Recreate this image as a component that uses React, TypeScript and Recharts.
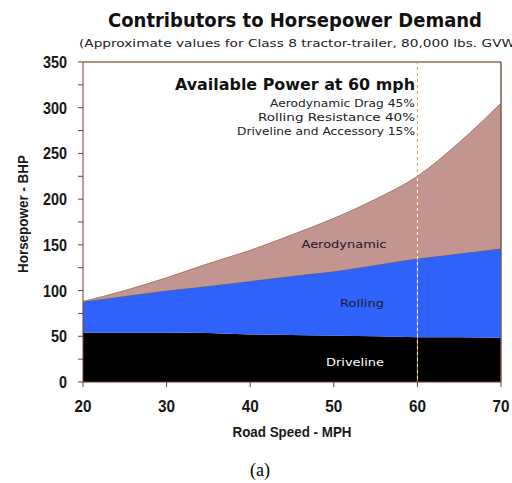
import { AreaChart, Area, XAxis, YAxis, ReferenceLine } from 'recharts';

const speeds = [20, 25, 30, 35, 40, 45, 50, 55, 60, 65, 70];
const driveline = [54, 54, 54, 53.5, 52, 51.5, 50.5, 50, 49, 49, 48.5];
const rolling = [34, 40, 46, 51.5, 58.5, 64.5, 70.5, 78, 86, 91.5, 97.5];
const aerodynamic = [0, 6, 14, 24.5, 33.5, 45, 58, 72, 90, 121.5, 159];

const xTicks = [20, 30, 40, 50, 60, 70];
const yTicks = [0, 25, 50, 75, 100, 125, 150, 175, 200, 225, 250, 275, 300, 325, 350];

const shares = [
  { text: 'Aerodynamic Drag 45%', width: 145 },
  { text: 'Rolling Resistance 40%', width: 157 },
  { text: 'Driveline and Accessory 15%', width: 178 }
];

const data = speeds.map((speed, i) => ({
  speed,
  driveline: driveline[i],
  rolling: rolling[i],
  aerodynamic: aerodynamic[i]
}));

// narrow bold tick labels, squeezed to the width of the original
function Tick(props: any) {
  const { x, y, payload, orientation } = props;
  const v = payload.value as number;
  if (orientation === 'left' && v % 50 !== 0) return null;
  const label = String(v);
  const w = label.length * (orientation === 'left' ? 8 : 8.5);
  if (orientation === 'left') {
    return (
      <text x={x} y={y} dy={6} textAnchor="end" textLength={w} lengthAdjust="spacingAndGlyphs" style={tickStyle}>
        {label}
      </text>
    );
  }
  return (
    <text x={x} y={y} dy={12} textAnchor="middle" textLength={w} lengthAdjust="spacingAndGlyphs" style={tickStyle}>
      {label}
    </text>
  );
}

export default function App() {
  return (
    <div style={page}>
      <AreaChart width={512} height={450} data={data} margin={{ top: 62, right: 11, bottom: 0, left: 0 }}>
        <XAxis
          dataKey="speed"
          type="number"
          domain={[20, 70]}
          ticks={xTicks}
          height={68}
          stroke={axisColor}
          tickSize={5}
          tickMargin={13}
          tick={<Tick orientation="bottom" />}
        />
        <YAxis
          type="number"
          domain={[0, 350]}
          ticks={yTicks}
          width={83}
          stroke={axisColor}
          tickSize={5}
          tickMargin={11}
          interval={0}
          tick={<Tick orientation="left" />}
        />
        <Area type="linear" dataKey="driveline" stackId="a" fill="#000" fillOpacity={1} stroke="none" isAnimationActive={false} />
        <Area type="monotone" dataKey="rolling" stackId="a" fill="#2f62fb" fillOpacity={1} stroke="#6a6a50" strokeWidth={1} isAnimationActive={false} />
        <Area type="monotone" dataKey="aerodynamic" stackId="a" fill="#c39590" fillOpacity={1} stroke="#a87868" strokeWidth={1} isAnimationActive={false} />
        <ReferenceLine y={350} stroke="#9a6a58" strokeWidth={1.5} />
        <ReferenceLine x={70} stroke="#7a5a48" strokeWidth={1.5} />
        <ReferenceLine x={60} stroke="#c89a5a" strokeDasharray="3 3" />
        <ReferenceLine x={60} stroke="#ffffff" strokeDasharray="3 3" strokeDashoffset={3} />
      </AreaChart>

      <svg width={512} height={483} style={overlay}>
        <text x={108} y={27} textLength={374} lengthAdjust="spacingAndGlyphs" style={titleFont}>
          Contributors to Horsepower Demand
        </text>
        <text x={79} y={47} textLength={436} lengthAdjust="spacingAndGlyphs" style={smallFont}>
          (Approximate values for Class 8 tractor-trailer, 80,000 lbs. GVW
        </text>

        <text x={415} y={90} textAnchor="end" textLength={240} lengthAdjust="spacingAndGlyphs" style={boxTitleFont}>
          Available Power at 60 mph
        </text>
        {shares.map((s, i) => (
          <text key={s.text} x={415} y={107 + i * 14} textAnchor="end" textLength={s.width} lengthAdjust="spacingAndGlyphs" style={smallFont}>
            {s.text}
          </text>
        ))}

        <text x={344} y={248} textAnchor="middle" textLength={85} lengthAdjust="spacingAndGlyphs" style={areaFont}>Aerodynamic</text>
        <text x={362} y={307} textAnchor="middle" textLength={44} lengthAdjust="spacingAndGlyphs" style={areaFont}>Rolling</text>
        <text x={355} y={366} textAnchor="middle" textLength={58} lengthAdjust="spacingAndGlyphs" style={{ ...areaFont, fill: '#fff' }}>Driveline</text>

        <text x={292} y={437} textAnchor="middle" textLength={119} lengthAdjust="spacingAndGlyphs" style={axisTitleFont}>
          Road Speed - MPH
        </text>
        <text
          x={0}
          y={0}
          transform="translate(28 214) rotate(-90)"
          textAnchor="middle"
          textLength={118}
          lengthAdjust="spacingAndGlyphs"
          style={axisTitleFont}
        >
          Horsepower - BHP
        </text>

        <text x={260} y={476} textAnchor="middle" style={captionFont}>(a)</text>
      </svg>
    </div>
  );
}

const axisColor = '#6e3a36';

const page = {
  position: 'absolute' as const,
  left: 0,
  top: 0,
  width: 512,
  height: 483,
  background: '#fff'
};

const overlay = {
  position: 'absolute' as const,
  left: 0,
  top: 0,
  pointerEvents: 'none' as const
};

const tickStyle = {
  fontFamily: '"Liberation Sans", Arial, sans-serif',
  fontWeight: 700,
  fontSize: 17,
  fill: '#161616'
};

const titleFont = {
  fontFamily: '"DejaVu Sans", sans-serif',
  fontWeight: 700,
  fontSize: 19,
  fill: '#111'
};

const boxTitleFont = {
  fontFamily: '"DejaVu Sans", sans-serif',
  fontWeight: 700,
  fontSize: 15,
  fill: '#111'
};

const smallFont = {
  fontFamily: '"DejaVu Sans", sans-serif',
  fontSize: 11,
  fill: '#222'
};

const areaFont = {
  fontFamily: '"DejaVu Sans", sans-serif',
  fontSize: 11,
  fill: '#1a1a2a'
};

const axisTitleFont = {
  fontFamily: '"Liberation Sans", Arial, sans-serif',
  fontWeight: 700,
  fontSize: 14,
  fill: '#1a1a1a'
};

const captionFont = {
  fontFamily: '"Liberation Serif", serif',
  fontSize: 18,
  fill: '#000'
};
